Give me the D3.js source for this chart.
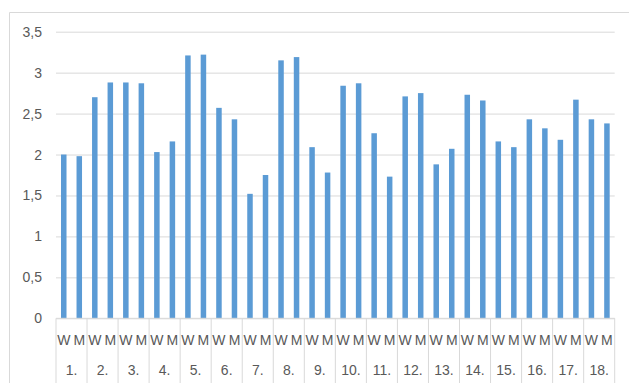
<!DOCTYPE html>
<html><head><meta charset="utf-8">
<script src="https://cdn.jsdelivr.net/npm/d3@7"></script>
<style>body{margin:0;background:#fff}svg{display:block}</style>
</head><body>
<svg id="c" width="629" height="383"></svg>
<script>
const groups = ["1.","2.","3.","4.","5.","6.","7.","8.","9.","10.","11.","12.","13.","14.","15.","16.","17.","18."];
const subLabels = ["W","M"];
const valuesW = [2.00,2.70,2.88,2.03,3.21,2.57,1.52,3.15,2.09,2.84,2.26,2.71,1.88,2.73,2.16,2.43,2.18,2.43];
const valuesM = [1.98,2.88,2.87,2.16,3.22,2.43,1.75,3.19,1.78,2.87,1.73,2.75,2.07,2.66,2.09,2.32,2.67,2.38];
const yTicks = [0,0.5,1,1.5,2,2.5,3,3.5];

const svg = d3.select("#c");
const grid = "#d9d9d9", txt = "#595959", barColor = "#5B9BD5";
const font = "Liberation Sans, Arial, sans-serif";
const fs = 14;
const L = 56, R = 614.7, T = 31.7, B = 318.3;

// chart border
svg.append("path").attr("d","M9.5,383 V12.5 H629").attr("fill","none").attr("stroke",grid);

const y = d3.scaleLinear().domain([0,3.5]).range([B,T]);
const xg = d3.scaleBand().domain(groups).range([L,R]).padding(0);
const xs = d3.scaleBand().domain(subLabels).range([0,xg.bandwidth()]).padding(0);

// gridlines
const yAxis = d3.axisLeft(y).tickValues(yTicks).tickSize(-(R-L)).tickPadding(14)
  .tickFormat(d => String(d).replace(".", ","));
const ga = svg.append("g").attr("transform",`translate(${L},0)`).call(yAxis);
ga.select(".domain").remove();
ga.selectAll(".tick line").attr("stroke",grid).attr("stroke-width",1);
ga.selectAll(".tick text").attr("fill",txt).attr("font-family",font).attr("font-size",fs);

// bars
const data = [];
groups.forEach((g,i)=>{ data.push({g,s:"W",v:valuesW[i]}); data.push({g,s:"M",v:valuesM[i]}); });
const bw = 5.5;
svg.append("g").selectAll("rect").data(data).join("rect")
  .attr("x", d => xg(d.g) + xs(d.s) + xs.bandwidth()/2 - bw/2)
  .attr("width", bw)
  .attr("y", d => y(d.v))
  .attr("height", d => y(0) - y(d.v))
  .attr("fill", barColor);

// category axis line
svg.append("line").attr("x1",L).attr("x2",R).attr("y1",B).attr("y2",B).attr("stroke",grid);
// separators
const seps = groups.map(g => xg(g)).concat([R]);
svg.append("g").selectAll("line").data(seps).join("line")
  .attr("x1",d=>d).attr("x2",d=>d).attr("y1",B).attr("y2",383).attr("stroke",grid);

// sub labels
svg.append("g").selectAll("text").data(data).join("text")
  .attr("x", d => xg(d.g) + xs(d.s) + xs.bandwidth()/2)
  .attr("y", 345)
  .attr("text-anchor","middle").attr("fill",txt).attr("font-family",font).attr("font-size",fs)
  .text(d => d.s);
// group labels
svg.append("g").selectAll("text").data(groups).join("text")
  .attr("x", d => xg(d) + xg.bandwidth()/2)
  .attr("y", 375)
  .attr("text-anchor","middle").attr("fill",txt).attr("font-family",font).attr("font-size",fs)
  .text(d => d);
</script>
</body></html>
